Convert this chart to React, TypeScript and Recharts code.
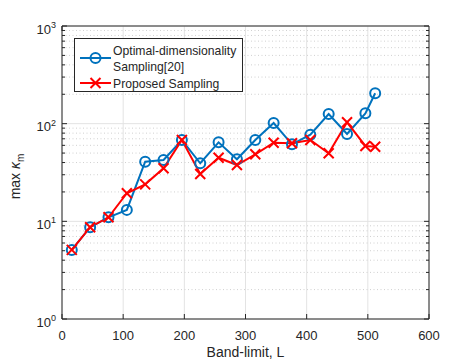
import React from "react";
import {
  LineChart,
  Line,
  CartesianGrid,
  XAxis,
  YAxis,
  ReferenceLine,
  Legend,
} from "recharts";

const bandLimits = [16, 46, 76, 106, 136, 166, 196, 226, 256, 286, 316, 346, 376, 406, 436, 466, 496, 512];
const optimalDim = [5.1, 8.7, 11.0, 13.1, 40.8, 42.5, 68.0, 39.3, 64.4, 43.2, 68.0, 101.6, 61.5, 77.1, 125.6, 78.4, 127.6, 204.6];
const proposed = [5.1, 8.7, 11.0, 19.4, 23.9, 34.9, 68.0, 30.5, 44.8, 37.7, 48.6, 63.8, 62.9, 68.0, 49.7, 103.2, 59.1, 58.1];

const xTicks = [0, 100, 200, 300, 400, 500, 600];
const decades = [1, 10, 100, 1000];
const decadeExp = ["0", "1", "2", "3"];
const minorSteps = [2, 3, 4, 5, 6, 7, 8, 9];

const minorValues = decades.slice(0, 3).flatMap((d) => minorSteps.map((m) => d * m));
const yTicks = [...decades, ...minorValues].sort((a, b) => a - b);

const data = bandLimits.map((L, i) => ({ L, opt: optimalDim[i], prop: proposed[i] }));

const BLUE = "#0072BD";
const RED = "#FF0000";
const AX = "#262626";
const FONT = "'Liberation Sans', Arial, sans-serif";

const LeftTick = (props: any) => {
  const { x, y, payload } = props;
  const idx = decades.indexOf(payload.value);
  const major = idx >= 0;
  return (
    <g>
      <line x1={x} x2={x + (major ? 5 : 3)} y1={y} y2={y} stroke={AX} strokeWidth={1} />
      {major && (
        <text x={x - 6} y={y + 7.5} textAnchor="end" fill={AX} fontSize={13} fontFamily={FONT}>
          10
          <tspan fontSize={9} dy={-5.5}>{decadeExp[idx]}</tspan>
        </text>
      )}
    </g>
  );
};

const RightTick = (props: any) => {
  const { x, y, payload } = props;
  const major = decades.includes(payload.value);
  return <line x1={x} x2={x - (major ? 5 : 3)} y1={y} y2={y} stroke={AX} strokeWidth={1} />;
};

const BottomTick = (props: any) => {
  const { x, y, payload } = props;
  return (
    <g>
      <line x1={x} x2={x} y1={y} y2={y - 5} stroke={AX} strokeWidth={1} />
      <text x={x} y={y + 21} textAnchor="middle" fill={AX} fontSize={13} fontFamily={FONT}>
        {payload.value}
      </text>
    </g>
  );
};

const TopTick = (props: any) => {
  const { x, y } = props;
  return <line x1={x} x2={x} y1={y} y2={y + 5} stroke={AX} strokeWidth={1} />;
};

const CrossDot = (props: any) => {
  const { cx, cy } = props;
  if (cx == null || cy == null) return null;
  const s = 5;
  return (
    <path
      d={`M${cx - s},${cy - s}L${cx + s},${cy + s}M${cx - s},${cy + s}L${cx + s},${cy - s}`}
      stroke={RED}
      strokeWidth={2}
      fill="none"
    />
  );
};

const LegendBox = () => (
  <div style={{ border: `1px solid ${AX}`, background: "#fff", width: 169, height: 54, boxSizing: "border-box" }}>
    <svg width={167} height={52} style={{ display: "block" }}>
      <line x1={5} x2={36} y1={19} y2={19} stroke={BLUE} strokeWidth={2} />
      <circle cx={20.5} cy={19} r={5} stroke={BLUE} strokeWidth={2} fill="none" />
      <text x={38} y={16} fontSize={12.2} fontFamily={FONT} fill={AX}>Optimal-dimensionality</text>
      <text x={38} y={32} fontSize={12.2} fontFamily={FONT} fill={AX}>Sampling[20]</text>
      <line x1={5} x2={36} y1={44} y2={44} stroke={RED} strokeWidth={2} />
      <path d="M15.5,39L25.5,49M15.5,49L25.5,39" stroke={RED} strokeWidth={2} />
      <text x={38} y={48.5} fontSize={12.2} fontFamily={FONT} fill={AX}>Proposed Sampling</text>
    </svg>
  </div>
);

const App: React.FC = () => {
  return (
    <div style={{ position: "absolute", left: 0, top: 0, background: "#fff" }}>
      <LineChart width={474} height={363} data={data} margin={{ top: 25, right: 44, bottom: 14, left: 22 }}>
        <CartesianGrid xAxisId="b" yAxisId="l" horizontal={false} stroke="#e3e3e3" />
        {minorValues.map((v) => (
          <ReferenceLine key={"m" + v} xAxisId="b" yAxisId="l" y={v} stroke="#d0d0d0" strokeDasharray="1 2.5" />
        ))}
        {decades.map((v) => (
          <ReferenceLine key={"d" + v} xAxisId="b" yAxisId="l" y={v} stroke="#e3e3e3" />
        ))}
        <XAxis
          xAxisId="b"
          dataKey="L"
          type="number"
          domain={[0, 600]}
          ticks={xTicks}
          interval={0}
          height={30}
          tickSize={0}
          tickMargin={0}
          tickLine={false}
          tick={<BottomTick />}
          stroke={AX}
          allowDataOverflow
          label={({ viewBox }: any) => (
            <text
              x={viewBox.x + viewBox.width / 2}
              y={357}
              textAnchor="middle"
              fill={AX}
              fontSize={14}
              fontFamily={FONT}
            >
              Band-limit, L
            </text>
          )}
        />
        <XAxis
          xAxisId="t"
          orientation="top"
          type="number"
          domain={[0, 600]}
          ticks={xTicks}
          interval={0}
          height={1}
          tickSize={0}
          tickMargin={0}
          tickLine={false}
          tick={<TopTick />}
          stroke={AX}
          allowDataOverflow
        />
        <YAxis
          yAxisId="l"
          type="number"
          scale="log"
          domain={[1, 1000]}
          ticks={yTicks}
          interval={0}
          width={40}
          tickSize={0}
          tickMargin={0}
          tickLine={false}
          tick={<LeftTick />}
          stroke={AX}
          allowDataOverflow
          label={({ viewBox }: any) => {
            const cx = 20;
            const cy = viewBox.y + viewBox.height / 2 + 4;
            return (
              <text
                x={cx}
                y={cy}
                transform={`rotate(-90 ${cx} ${cy})`}
                textAnchor="middle"
                fill={AX}
                fontSize={14}
                fontFamily={FONT}
              >
                max <tspan fontStyle="italic">κ</tspan>
                <tspan fontSize={10} dy={4}>m</tspan>
              </text>
            );
          }}
        />
        <YAxis
          yAxisId="r"
          orientation="right"
          type="number"
          scale="log"
          domain={[1, 1000]}
          ticks={yTicks}
          interval={0}
          width={1}
          tickSize={0}
          tickMargin={0}
          tickLine={false}
          tick={<RightTick />}
          stroke={AX}
          allowDataOverflow
        />
        <Legend
          layout="vertical"
          align="center"
          verticalAlign="middle"
          wrapperStyle={{ left: 74, top: 38, width: 169 }}
          content={() => <LegendBox />}
        />
        <Line
          xAxisId="b"
          yAxisId="l"
          dataKey="opt"
          stroke={BLUE}
          strokeWidth={2}
          dot={{ r: 5, stroke: BLUE, strokeWidth: 2, fill: "none" }}
          isAnimationActive={false}
        />
        <Line
          xAxisId="b"
          yAxisId="l"
          dataKey="prop"
          stroke={RED}
          strokeWidth={2}
          dot={<CrossDot />}
          isAnimationActive={false}
        />
      </LineChart>
    </div>
  );
};

export default App;
